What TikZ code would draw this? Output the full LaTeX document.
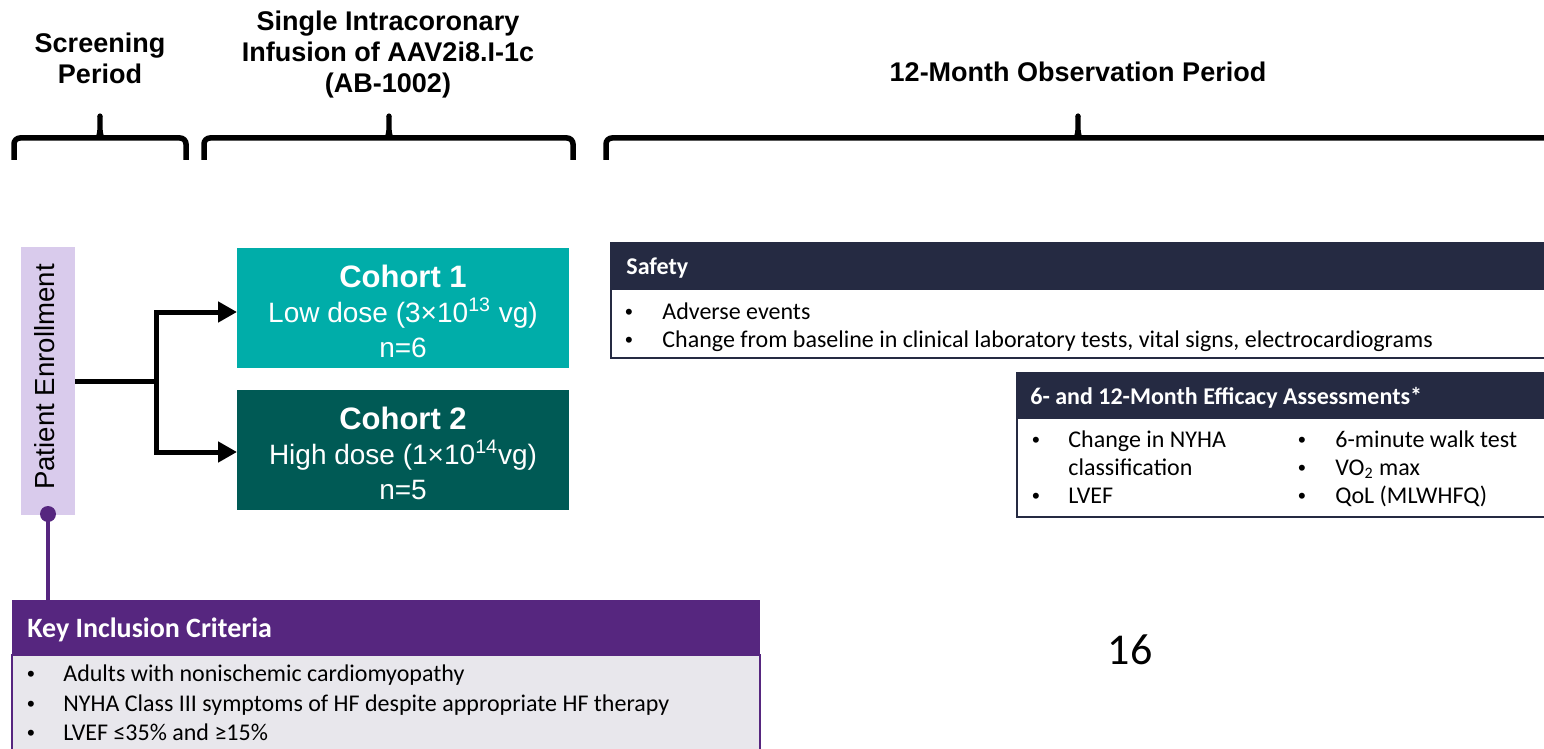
\documentclass[tikz,border=0pt]{standalone}
\usepackage{fontspec}
\setmainfont{Carlito}
\newfontfamily\arialfont{Liberation Sans}
\usetikzlibrary{arrows.meta}
\definecolor{lav}{HTML}{D9CBEC}
\definecolor{purp}{HTML}{56267F}
\definecolor{tealA}{HTML}{00ADA9}
\definecolor{tealB}{HTML}{005A55}
\definecolor{navy}{HTML}{252A42}
\definecolor{grayb}{HTML}{E8E7EC}
\newcommand{\drawbrace}[3]{%
  \draw[bracestyle, rounded corners=3pt] (#1,160) -- (#1,138) -- (#3,138) -- (#3,160);
  \fill (#2-8,139) .. controls (#2-2,138) and (#2-2.4,130) .. (#2-2.6,116) -- (#2+2.6,116) .. controls (#2+2.4,130) and (#2+2,138) .. (#2+8,139) -- cycle;
  \fill (#2,116) circle (1.3pt);}
\begin{document}
\begin{tikzpicture}[x=0.5pt,y=-0.5pt,
  toplabel/.style={font=\arialfont\bfseries\fontsize{13.5}{15.5}\selectfont, align=center, inner sep=0},
  bracestyle/.style={line width=2.75pt},
  boxstyle/.style={rectangle, inner sep=0, outer sep=0},
  cohort/.style={boxstyle, minimum width=166pt, minimum height=60pt},
  cohorttxt/.style={inner sep=0, text=white, align=center, font=\arialfont\fontsize{14}{17.5}\selectfont},
  hdr/.style={boxstyle, fill=navy, draw=navy, line width=0.75pt},
  bodybox/.style={boxstyle, fill=white, draw=navy, line width=1pt},
  txt/.style={anchor=base west, inner sep=0, font=\fontsize{12}{14}\selectfont},
  bul/.style={anchor=base, inner sep=0, font=\arialfont\fontsize{11}{11}\selectfont},
  hdrtxt/.style={txt, text=white, font=\bfseries\fontsize{12}{14}\selectfont},
  conn/.style={line width=2.5pt, -{Triangle[length=9.5pt,width=10pt]}},
]
\useasboundingbox (0,0) rectangle (1544,749);
\fill[white] (0,0) rectangle (1544,749);

% top labels
\node[toplabel] (l1) at (100,58) {Screening\\Period};
\node[toplabel] (l2) at (388,55) {Single Intracoronary\\Infusion of AAV2i8.I-1c\\(AB-1002)};
\node[toplabel] (l3) at (1078,72) {12-Month Observation Period};

% braces
\drawbrace{14}{100}{186}
\drawbrace{204}{389}{573}
\drawbrace{606}{1078}{1570}

% enrollment
\node[boxstyle, fill=lav, minimum width=27pt, minimum height=134pt] (pe) at (48,381) {};
\node[rotate=90, inner sep=0, font=\arialfont\fontsize{13.8}{16}\selectfont] (pet) at (45,377) {Patient Enrollment};

% cohorts
\node[cohort, fill=tealA] (c1) at (403,308) {};
\node[cohort, fill=tealB] (c2) at (403,450) {};
\node[cohorttxt] (c1t) at (403,311) {{\fontsize{15.5}{17.5}\selectfont\bfseries Cohort 1}\\Low dose (3×10\textsuperscript{13} vg)\\n=6};
\node[cohorttxt] (c2t) at (403,453) {{\fontsize{15.5}{17.5}\selectfont\bfseries Cohort 2}\\High dose (1×10\textsuperscript{14}vg)\\n=5};

\coordinate (split) at (156,381);
\coordinate (a1) at ([yshift=-2pt]c1.west);
\coordinate (a2) at ([yshift=-1pt]c2.west);
\draw[line width=2.5pt] (pe.east) -- (split);
\draw[conn] (split) |- (a1);
\draw[conn] (split) |- (a2);

% safety
\node[hdr, minimum width=469.5pt, minimum height=23pt] (sh) at (1080.5,266) {};
\node[bodybox, minimum width=469.5pt, minimum height=34.5pt] (sb) at (1080.5,323.5) {};
\node[hdrtxt] (sht) at (626,275) {Safety};
\node[bul] (sb1) at (629,319) {•};
\node[txt] (st1) at (662,319) {Adverse events};
\node[bul] (sb2) at (629,347) {•};
\node[txt] (st2) at (662,347) {Change from baseline in clinical laboratory tests, vital signs, electrocardiograms};

% efficacy
\node[hdr, minimum width=266.5pt, minimum height=22.5pt] (eh) at (1283.5,395.5) {};
\node[bodybox, minimum width=266.5pt, minimum height=49.5pt] (eb) at (1283.5,467.5) {};
\node[hdrtxt] (eht) at (1030,404) {6- and 12-Month Efficacy Assessments*};
\node[bul] (eb1) at (1036,447) {•};
\node[txt] (et1) at (1068,447) {Change in NYHA};
\node[txt] (et1b) at (1068,475) {classification};
\node[bul] (eb2) at (1036,503) {•};
\node[txt] (et2) at (1068,503) {LVEF};
\node[bul] (eb3) at (1302,447) {•};
\node[txt] (et3) at (1335,447) {6-minute walk test};
\node[bul] (eb4) at (1302,475) {•};
\node[txt] (et4) at (1335,475) {VO\textsubscript{2} max};
\node[bul] (eb5) at (1302,503) {•};
\node[txt] (et5) at (1335,503) {QoL (MLWHFQ)};

% key inclusion criteria
\node[boxstyle, fill=purp, minimum width=374pt, minimum height=27.5pt] (kh) at (386,627.5) {};
\node[boxstyle, fill=grayb, draw=purp, line width=1pt, minimum width=374pt, minimum height=52.5pt] (kb) at (386,707.5) {};
\node[hdrtxt, font=\bfseries\fontsize{14}{16}\selectfont] (kht) at (27,637) {Key Inclusion Criteria};
\node[bul] (kb1) at (31,681) {•};
\node[txt] (kt1) at (63,681) {Adults with nonischemic cardiomyopathy};
\node[bul] (kb2) at (31,711) {•};
\node[txt] (kt2) at (63,711) {NYHA Class III symptoms of HF despite appropriate HF therapy};
\node[bul] (kb3) at (31,740) {•};
\node[txt] (kt3) at (63,740) {LVEF ≤35\% and ≥15\%};

% dot and line
\node[circle, fill=purp, minimum size=8pt, inner sep=0] (dot) at (48,514) {};
\draw[purp, line width=2.2pt] (dot.center) -- (dot |- kh.north);

% page number
\node[inner sep=0, font=\fontsize{22}{26}\selectfont] (pg) at (1130,650) {16};
\end{tikzpicture}
\end{document}
